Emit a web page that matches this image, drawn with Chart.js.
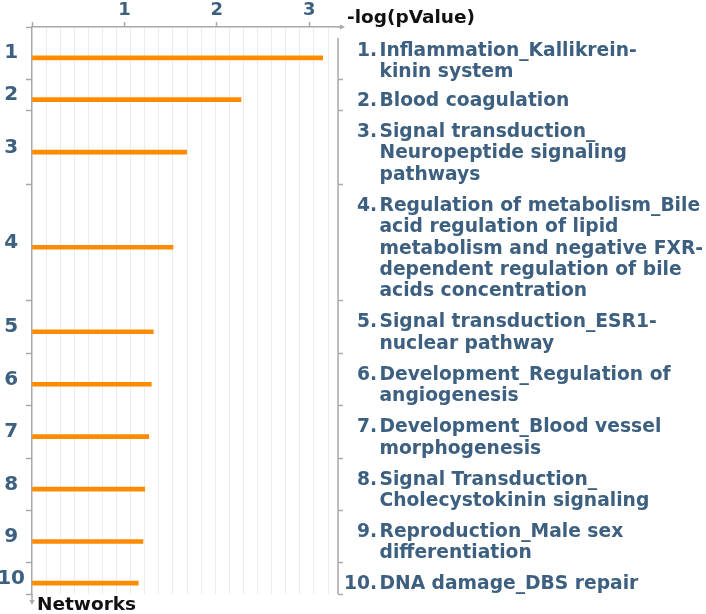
<!DOCTYPE html>
<html>
<head>
<meta charset="utf-8">
<script src="https://cdn.jsdelivr.net/npm/chart.js@4.4.1/dist/chart.umd.min.js"></script>
<style>
  html, body { margin: 0; padding: 0; background: #fff; }
  #wrap { width: 706px; height: 614px; position: relative; }
</style>
</head>
<body>
<div id="wrap"><canvas id="netChart"></canvas></div>
<script>
// network names (wrapped as in the picture), ids and -log(pValue)
const networkIds = ['1', '2', '3', '4', '5', '6', '7', '8', '9', '10'];
const networkNames = [
  ['Inflammation_Kallikrein-', 'kinin system'],
  ['Blood coagulation'],
  ['Signal transduction_', 'Neuropeptide signaling', 'pathways'],
  ['Regulation of metabolism_Bile', 'acid regulation of lipid', 'metabolism and negative FXR-', 'dependent regulation of bile', 'acids concentration'],
  ['Signal transduction_ESR1-', 'nuclear pathway'],
  ['Development_Regulation of', 'angiogenesis'],
  ['Development_Blood vessel', 'morphogenesis'],
  ['Signal Transduction_', 'Cholecystokinin signaling'],
  ['Reproduction_Male sex', 'differentiation'],
  ['DNA damage_DBS repair']
];
const logPValues = [3.146, 2.262, 1.674, 1.526, 1.313, 1.291, 1.263, 1.220, 1.201, 1.150];
const xTickValues = [1, 2, 3];
const xTitle = '-log(pValue)';
const yTitle = 'Networks';

// styles
const textColor = '#3d6080';
const axisColor = '#a8a8a8';
const barColor = '#ff8c00';
const gridColor = '#ebebeb';
const xMax = 3.312;
const gridStep = 0.1526;
const rowPad = 0.45;   // extra space per row, in text lines
const barShift = 0.22; // bars sit a little under the row middle

// rows are as tall as their label text
const rowTop = [];
const rowMid = [];
let acc = 0;
networkNames.forEach(lines => {
  const h = lines.length + rowPad;
  rowTop.push(acc);
  rowMid.push(acc + h / 2);
  acc += h;
});
const yMax = acc;

const yTicks = [];
rowTop.forEach((t, i) => {
  yTicks.push({ value: t, kind: 'edge' });
  yTicks.push({ value: rowMid[i], kind: 'mid', label: networkIds[i] });
});
yTicks.push({ value: yMax, kind: 'edge' });

const xTicks = [{ value: 0, kind: 'major' }];
xTickValues.forEach(v => xTicks.push({ value: v, kind: 'major', label: String(v) }));
for (let k = 1; k * gridStep < xMax; k++) xTicks.push({ value: k * gridStep, kind: 'minor' });
xTicks.sort((a, b) => a.value - b.value);

Chart.defaults.font.family = '"DejaVu Sans", sans-serif';

// axis ends, frame and the text list on the right
const decorPlugin = {
  id: 'decor',
  afterDraw(chart) {
    const ctx = chart.ctx;
    const a = chart.chartArea;
    const ys = chart.scales.y;
    ctx.save();
    ctx.strokeStyle = axisColor;
    ctx.fillStyle = axisColor;
    ctx.lineWidth = 1.5;
    ctx.beginPath();
    ctx.moveTo(a.right, a.top + 11);
    ctx.lineTo(a.right, a.bottom);
    ctx.moveTo(a.right, a.top);
    ctx.lineTo(a.right + 4, a.top);
    ctx.moveTo(a.left, a.bottom);
    ctx.lineTo(a.left, a.bottom + 7);
    ctx.stroke();
    ctx.beginPath();
    ctx.moveTo(a.right + 7, a.top);
    ctx.lineTo(a.right + 2, a.top - 2.5);
    ctx.lineTo(a.right + 2, a.top + 2.5);
    ctx.closePath();
    ctx.fill();
    ctx.beginPath();
    ctx.moveTo(a.left, a.bottom + 11);
    ctx.lineTo(a.left - 2.5, a.bottom + 6);
    ctx.lineTo(a.left + 2.5, a.bottom + 6);
    ctx.closePath();
    ctx.fill();

    ctx.fillStyle = '#111';
    ctx.font = 'bold 18.5px "DejaVu Sans"';
    ctx.textBaseline = 'alphabetic';
    ctx.textAlign = 'left';
    ctx.fillText(xTitle, a.right + 9, 23);
    ctx.fillText(yTitle, a.left + 5, a.bottom + 16);

    ctx.fillStyle = textColor;
    ctx.font = 'bold 18.7px "DejaVu Sans"';
    const lineH = ys.getPixelForValue(1) - ys.getPixelForValue(0);
    networkNames.forEach((lines, i) => {
      let y = ys.getPixelForValue(rowTop[i]) + (i === 0 ? 29 : 26.5);
      ctx.textAlign = 'right';
      ctx.fillText(networkIds[i] + '.', 377, y);
      ctx.textAlign = 'left';
      lines.forEach(line => {
        ctx.fillText(line, 379.5, y);
        y += lineH;
      });
    });
    ctx.restore();
  }
};

new Chart(document.getElementById('netChart'), {
  type: 'bar',
  data: {
    datasets: [{
      data: logPValues.map((v, i) => ({ x: v, y: rowMid[i] + barShift })),
      backgroundColor: barColor,
      borderWidth: 0,
      barThickness: 4,
      xAxisID: 'x',
      yAxisID: 'y'
    }]
  },
  options: {
    indexAxis: 'y',
    responsive: true,
    maintainAspectRatio: false,
    animation: false,
    layout: { padding: { left: 0, top: 0, right: 363, bottom: 20 } },
    plugins: { legend: { display: false }, tooltip: { enabled: false } },
    scales: {
      x: {
        type: 'linear',
        position: 'top',
        min: 0,
        max: xMax,
        offset: false,
        afterBuildTicks: s => { s.ticks = xTicks.map(t => ({ ...t })); },
        afterFit: s => { s.height = 27; },
        ticks: {
          autoSkip: false,
          maxRotation: 0,
          padding: 1,
          color: textColor,
          font: { size: 18, weight: 'bold' },
          callback: (v, i, ticks) => ticks[i].label || ''
        },
        grid: {
          offset: false,
          color: c => (c.tick && c.tick.kind === 'minor') ? gridColor : 'transparent',
          tickColor: c => (c.tick && c.tick.kind === 'major') ? axisColor : 'transparent',
          tickLength: 5,
          lineWidth: 1,
          tickWidth: 1.5
        },
        border: { color: axisColor, width: 1.5 }
      },
      y: {
        type: 'linear',
        position: 'left',
        reverse: true,
        min: 0,
        max: yMax,
        offset: false,
        afterBuildTicks: s => { s.ticks = yTicks.map(t => ({ ...t })); },
        afterFit: s => { s.width = 32; },
        ticks: {
          autoSkip: false,
          crossAlign: 'center',
          padding: 1,
          color: textColor,
          font: { size: 20, weight: 'bold' },
          callback: (v, i, ticks) => ticks[i].label || ''
        },
        grid: {
          offset: false,
          drawOnChartArea: false,
          tickLength: 6,
          tickWidth: 1.5,
          tickColor: c => (c.tick && c.tick.kind === 'edge') ? axisColor : 'transparent'
        },
        border: { color: axisColor, width: 1.5 }
      },
      yr: {
        type: 'linear',
        position: 'right',
        reverse: true,
        min: 0,
        max: yMax,
        offset: false,
        afterBuildTicks: s => { s.ticks = yTicks.filter(t => t.kind === 'edge' && t.value > 0).map(t => ({ ...t })); },
        afterFit: s => { s.width = 5; },
        ticks: { display: false },
        grid: { offset: false, drawOnChartArea: false, tickLength: 5, tickWidth: 1.5, tickColor: axisColor },
        border: { display: false }
      }
    }
  },
  plugins: [decorPlugin]
});
</script>
</body>
</html>
